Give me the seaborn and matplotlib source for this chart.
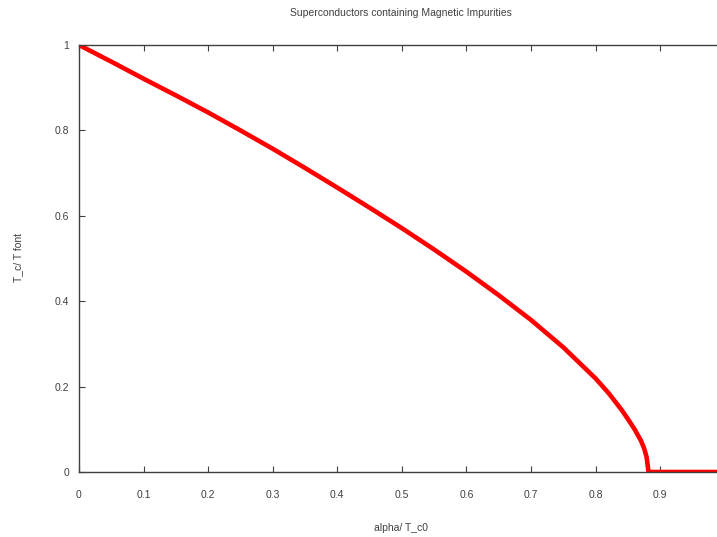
import matplotlib
matplotlib.use("Agg")
import matplotlib.pyplot as plt
import numpy as np
import pandas as pd
import seaborn as sns

# ── Data ────────────────────────────────────────────────────────────────────
alpha = [0.0, 0.05, 0.1, 0.15, 0.2, 0.25, 0.3, 0.35, 0.4, 0.45, 0.5, 0.55,
         0.6, 0.65, 0.7, 0.75, 0.8, 0.82, 0.84, 0.85, 0.86, 0.87, 0.875,
         0.879, 0.882, 0.9, 0.95, 0.99]
tc_ratio = [1.0, 0.961, 0.921, 0.882, 0.842, 0.800, 0.757, 0.712, 0.666,
            0.619, 0.571, 0.521, 0.469, 0.414, 0.356, 0.292, 0.219, 0.185,
            0.146, 0.124, 0.101, 0.074, 0.056, 0.035, 0.0, 0.0, 0.0, 0.0]

x_ticks = [0, 0.1, 0.2, 0.3, 0.4, 0.5, 0.6, 0.7, 0.8, 0.9]
x_tick_labels = ["0", "0.1", "0.2", "0.3", "0.4", "0.5", "0.6", "0.7", "0.8", "0.9"]
y_ticks = [0, 0.2, 0.4, 0.6, 0.8, 1.0]
y_tick_labels = ["0", "0.2", "0.4", "0.6", "0.8", "1"]

TITLE = "Superconductors containing Magnetic Impurities"
XLABEL = "alpha/ T_c0"
YLABEL = "T_c/ T font"

sns.set_theme(style="white")
plt.rcParams["font.family"] = ["Liberation Sans", "DejaVu Sans"]
TEXT_COLOR = "#404040"
AXIS_COLOR = "#404040"
FONT_SIZE = 7.5

df = pd.DataFrame({"alpha": alpha, "tc": tc_ratio})

fig = plt.figure(figsize=(7.17, 5.37), dpi=100)
ax = fig.add_axes([79 / 717, 1 - 472 / 537, 1 - 79 / 717, (472 - 45) / 537])

sns.lineplot(data=df, x="alpha", y="tc", ax=ax, color="#ff0000",
             linewidth=3.3, sort=True, estimator=None)

ax.set_xlim(0, 0.988)
ax.set_ylim(0, 1)
ax.set_xticks(x_ticks)
ax.set_xticklabels(x_tick_labels)
ax.set_yticks(y_ticks)
ax.set_yticklabels(y_tick_labels)

for side in ["left", "top", "bottom"]:
    ax.spines[side].set_visible(True)
    ax.spines[side].set_color(AXIS_COLOR)
    ax.spines[side].set_linewidth(1.0)
ax.spines["right"].set_visible(False)

ax.tick_params(axis="x", direction="in", length=4, width=0.8, color=AXIS_COLOR,
               top=True, bottom=True, labelsize=FONT_SIZE, labelcolor=TEXT_COLOR,
               pad=13)
ax.tick_params(axis="y", direction="in", length=4, width=0.8, color=AXIS_COLOR,
               left=True, right=False, labelsize=FONT_SIZE, labelcolor=TEXT_COLOR,
               pad=7)

ax.set_xlabel("")
ax.set_ylabel("")
fig.text(401 / 717, 1 - 528 / 537, XLABEL, ha="center", va="center",
         fontsize=FONT_SIZE, color=TEXT_COLOR)
fig.text(18 / 717, 1 - 258 / 537, YLABEL, ha="center", va="center",
         rotation=90, fontsize=FONT_SIZE, color=TEXT_COLOR)
fig.text(401 / 717, 1 - 13 / 537, TITLE, ha="center", va="center",
         fontsize=FONT_SIZE, color=TEXT_COLOR)

fig.savefig("out.png", dpi=100)
